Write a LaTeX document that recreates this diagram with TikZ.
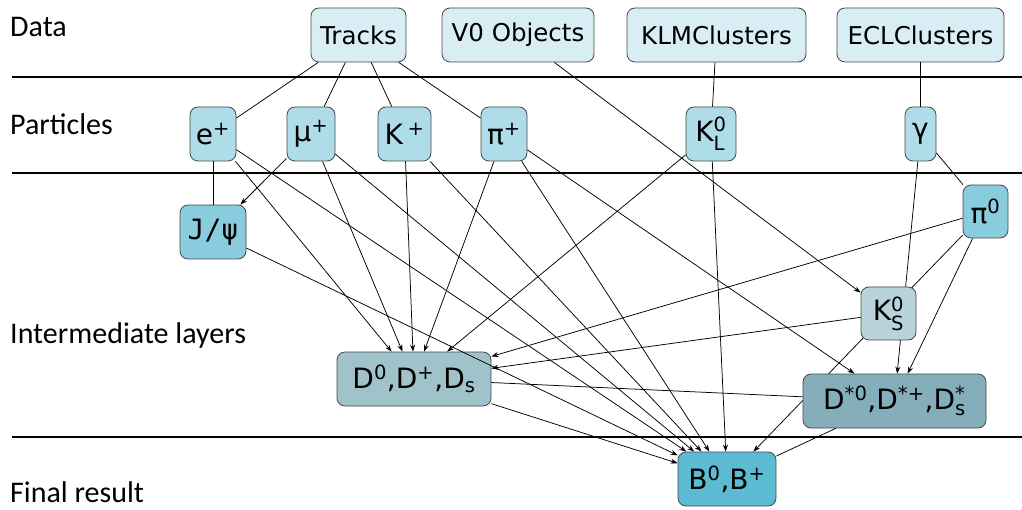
\documentclass[tikz,border=0pt]{standalone}
\usepackage{fontspec}
\usepackage{amsmath}
\setmainfont{DejaVu Sans}
\setmonofont{DejaVu Sans Mono}
\newfontfamily\lblfont{Carlito}
\usetikzlibrary{arrows.meta,backgrounds}
\definecolor{cdata}{RGB}{217,238,244}
\definecolor{cpart}{RGB}{174,220,232}
\definecolor{cmid}{RGB}{136,204,221}
\definecolor{cks}{RGB}{184,212,218}
\definecolor{cdd}{RGB}{159,194,203}
\definecolor{cdst}{RGB}{133,174,187}
\definecolor{cb}{RGB}{92,186,210}
\definecolor{cborder}{RGB}{70,70,70}
\tikzset{
  box/.style={draw=cborder, line width=0.8pt, rounded corners=8pt, inner sep=0pt,
    minimum height=54, font=\fontsize{28}{32}\selectfont},
  dbox/.style={box, font=\fontsize{24.5}{28}\selectfont},
  lbl/.style={anchor=base west, inner sep=0pt, font=\lblfont\fontsize{30}{34}\selectfont},
  ln/.style={line width=0.75pt, black},
  arr/.style={line width=0.75pt, black, -{Stealth[length=7pt,width=5pt]}},
  sep/.style={line width=1.6pt, black}
}
\begin{document}
\begin{tikzpicture}[x=1pt,y=-1pt]
\useasboundingbox (0,0) rectangle (1022,510);
% separators
\coordinate (s1a) at (12,77);   \coordinate (s1b) at (1022,77);
\coordinate (s2a) at (12,173);  \coordinate (s2b) at (1022,173);
\coordinate (s3a) at (12,437);  \coordinate (s3b) at (1022,437);
\draw[sep] (s1a) -- (s1b);
\draw[sep] (s2a) -- (s2b);
\draw[sep] (s3a) -- (s3b);
% layer labels
\node[lbl] (ldata) at (10,37) {Data};
\node[lbl] (lpart) at (10,135) {Particles};
\node[lbl] (linter) at (10,344) {Intermediate layers};
\node[lbl] (lfinal) at (10,502) {Final result};
% data nodes
\node[dbox, fill=cdata, minimum width=95] (tracks) at (358.5,35) {Tracks};
\node[dbox, fill=cdata, minimum width=152] (v0) at (518,35) {V0 Objects};
\node[dbox, fill=cdata, minimum width=179] (klm) at (716.5,35) {KLMClusters};
\node[dbox, fill=cdata, minimum width=167] (ecl) at (920.5,35) {ECLClusters};
% particles
\node[box, fill=cpart, minimum width=46] (ep) at (213,134) {e$^{\text{+}}$};
\node[box, fill=cpart, minimum width=48] (mup) at (311,134) {μ$^{\text{+}}$};
\node[box, fill=cpart, minimum width=53] (kp) at (404.5,134) {K\,$^{\text{+}}$};
\node[box, fill=cpart, minimum width=46] (pip) at (504,134) {π$^{\text{+}}$};
\node[box, fill=cpart, minimum width=50] (kl) at (711,134) {K$^{\text{0}}_{\text{L}}$};
\node[box, fill=cpart, minimum width=31] (gam) at (920.5,134) {γ};
% intermediate
\node[box, fill=cmid, minimum width=66] (jpsi) at (213,232) {\ttfamily J/ψ};
\node[box, fill=cmid, minimum width=45, minimum height=53] (pi0) at (985.5,211.5) {π$^{\text{0}}$};
\node[box, fill=cks, minimum width=55, minimum height=53] (ks) at (888.5,313.5) {K$^{\text{0}}_{\text{S}}$};
\node[box, fill=cdd, minimum width=154] (d) at (414,379) {D$^{\text{0}}$,D$^{\text{+}}$,D$_{\text{s}}$};
\node[box, fill=cdst, minimum width=183] (ds) at (894.5,401) {D$^{\text{*0}}$,D$^{\text{*+}}$,D$^{\text{*}}_{\text{s}}$};
\node[box, fill=cb, minimum width=98] (b) at (727,479) {B$^{\text{0}}$,B$^{\text{+}}$};
% edges passing behind nodes
\begin{scope}[on background layer]
\draw[arr] (pi0) -- (b);
\draw[arr] (gam) -- (ds);
\end{scope}
% data -> particles
\draw[ln] (tracks) -- (ep);
\draw[ln] (tracks) -- (mup);
\draw[ln] (tracks) -- (kp);
\draw[ln] (tracks) -- (pip);
\draw[ln] (klm) -- (kl);
\draw[ln] (ecl) -- (gam);
\draw[arr] (v0) -- (ks);
% particles -> intermediate
\draw[ln] (ep) -- (jpsi);
\draw[arr] (mup) -- (jpsi);
\draw[ln] (gam) -- (pi0);
\draw[arr] (ep) -- (d);
\draw[arr] (mup) -- (d);
\draw[arr] (kp) -- (d);
\draw[arr] (pip) -- (d);
\draw[arr] (kl) -- (d);
\draw[arr] (pi0) -- (d);
\draw[arr] (ks) -- (d);
\draw[arr] (pip) -- (ds);
\draw[arr] (pi0) -- (ds);
\draw[ln] (d) -- (ds);
% -> B
\draw[arr] (d) -- (b);
\draw[arr] (jpsi) -- (b);
\draw[arr] (ep) -- (b);
\draw[arr] (mup) -- (b);
\draw[arr] (kp) -- (b);
\draw[arr] (pip) -- (b);
\draw[arr] (kl) -- (b);
\draw[ln] (ds) -- (b);
\end{tikzpicture}
\end{document}
